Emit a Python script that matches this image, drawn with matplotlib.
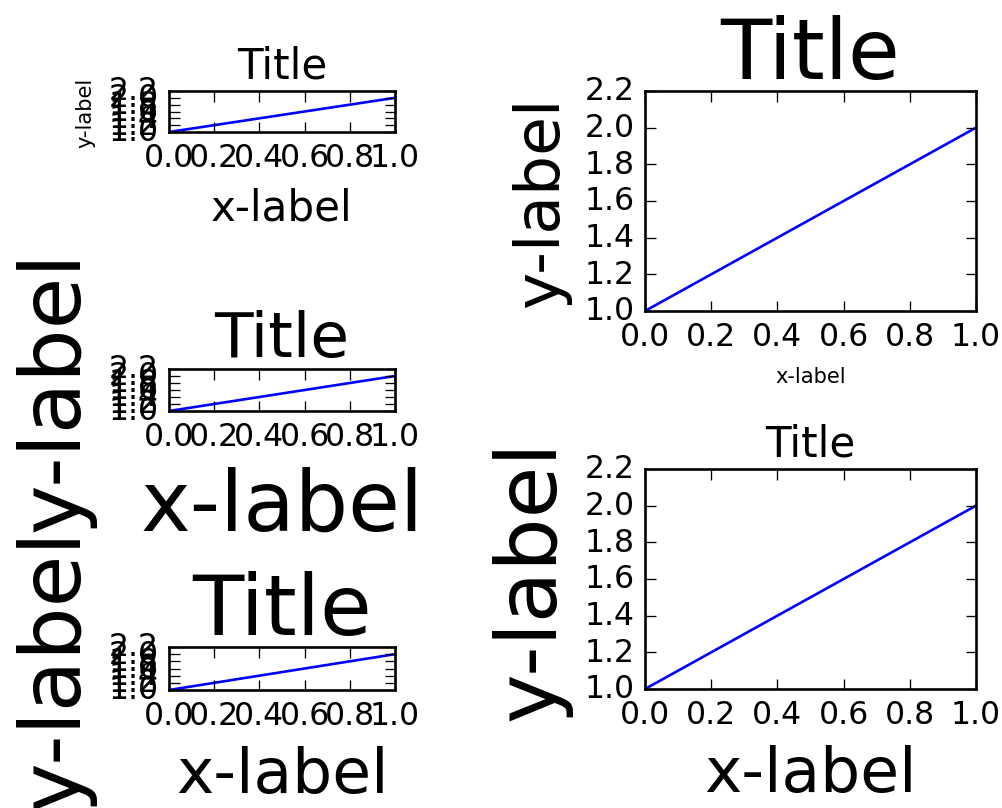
import matplotlib
matplotlib.use("Agg")
import matplotlib.pyplot as plt

# data: each panel plots the same two points
x_vals = [0, 1]
y_vals = [1, 2]

# font sizes (pt) per panel: x-label, y-label, title
xlabel_sizes = [16, 32, 24, 8, 24]
ylabel_sizes = [8, 32, 32, 24, 32]
title_sizes = [16, 24, 32, 32, 16]

# axes boxes in pixels: left, top, right, bottom
boxes_px = [
    (169, 92, 395, 133),
    (169, 370, 395, 412),
    (169, 648, 395, 691),
    (645, 92, 976, 312),
    (645, 470, 976, 690),
]

W, H, DPI = 1002, 809, 189

plt.style.use('classic')
plt.rcParams['figure.facecolor'] = 'white'
plt.rcParams['savefig.facecolor'] = 'white'

fig = plt.figure(figsize=(W / DPI, H / DPI), dpi=DPI)

for i, (l, t, r, b) in enumerate(boxes_px):
    ax = fig.add_axes([l / W, 1 - b / H, (r - l) / W, (b - t) / H])
    ax.plot(x_vals, y_vals)
    ax.set_xlim(0, 1)
    ax.set_ylim(1.0, 2.2)
    ax.set_xlabel('x-label', fontsize=xlabel_sizes[i])
    ax.set_ylabel('y-label', fontsize=ylabel_sizes[i])
    ax.set_title('Title', fontsize=title_sizes[i])

fig.savefig('out.png', dpi=DPI)
